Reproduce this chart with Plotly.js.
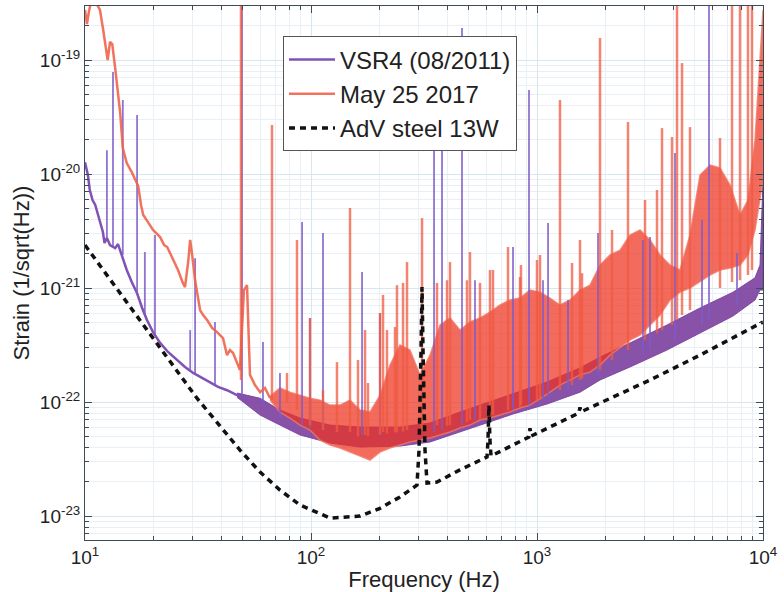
<!DOCTYPE html>
<html><head><meta charset="utf-8">
<script src="https://cdn.plot.ly/plotly-3.0.1.min.js"></script>
<style>html,body{margin:0;padding:0;background:#fff}#chart{width:784px;height:592px}</style>
</head><body><div id="chart"></div>
<script>
// ---- VSR4 (08/2011) ----
const vsr4LowFreq = [10, 10.3, 10.5, 10.8, 11.1, 11.4, 11.65, 12.0, 12.2, 12.5, 12.9, 13.6, 14.0, 14.3, 14.9, 15.3, 16.1, 17.0, 17.9, 18.8, 20.0, 21.5, 23.3, 25.5, 27.7, 30.1, 32.9, 35.7, 38.8, 42.5, 47.1, 52.1];
const vsr4LowStrain = [1.27e-20, 9.8e-21, 7.24e-21, 5.92e-21, 5.35e-21, 4.37e-21, 3.79e-21, 3.1e-21, 2.48e-21, 2.75e-21, 2.38e-21, 2.24e-21, 2.43e-21, 2.15e-21, 1.69e-21, 1.44e-21, 1.13e-21, 9.0e-22, 6.68e-22, 5.24e-22, 4.11e-22, 3.3e-22, 2.75e-22, 2.34e-22, 2.03e-22, 1.8e-22, 1.63e-22, 1.47e-22, 1.36e-22, 1.27e-22, 1.15e-22, 1.04e-22];
const vsr4BandFreq = [47.1, 59.5, 72.9, 89.4, 121.4, 164.8, 247.6, 336.1, 456.4, 559.6, 783.2, 1107, 1550, 1900, 2579, 3761, 5262, 7368, 9218, 9699, 10000];
const vsr4BandUpper = [1.2e-22, 1.08e-22, 8.5e-23, 7.24e-23, 6.28e-23, 6.04e-23, 6.04e-23, 6.55e-23, 8.17e-23, 9.4e-23, 1.2e-22, 1.5e-22, 1.99e-22, 2.48e-22, 3.3e-22, 4.74e-22, 6.68e-22, 9.2e-22, 1.23e-21, 1.59e-21, 8.86e-21];
const vsr4BandLower = [1.1e-22, 7.69e-23, 6.28e-23, 5.14e-23, 4.37e-23, 4.03e-23, 4.11e-23, 4.46e-23, 5.46e-23, 6.28e-23, 7.85e-23, 9.6e-23, 1.22e-22, 1.56e-22, 2.03e-22, 2.86e-22, 4.03e-22, 5.68e-22, 7.85e-22, 9.6e-22, 9.6e-22];
const vsr4SpikeFreq = [12.5, 13.3, 14.7, 17.0, 18.4, 20.4, 29.2, 30.7, 37.6, 49.5, 61.3, 72.9, 91.3, 99.0, 113, 168.2, 202, 350.3, 379.9, 465.8, 531.8, 783.2, 921.9, 1063, 1119, 1372, 1862, 2944, 3162, 4079, 5372, 5769, 7674];
const vsr4SpikePeak = [1.62e-20, 7.85e-20, 4.46e-20, 3.3e-20, 2.07e-21, 2.92e-21, 4.28e-22, 1.83e-21, 5.04e-22, 3.4e-19, 3.36e-22, 1.8e-22, 3.79e-21, 5.46e-22, 3.04e-21, 1.38e-21, 6.04e-22, 2.2e-20, 1.62e-20, 1.91e-19, 1.17e-21, 2.29e-21, 5.46e-20, 1.17e-21, 3.72e-21, 7.85e-22, 3.04e-21, 2.64e-21, 2.8e-21, 1.53e-20, 3.95e-21, 3.4e-19, 2.03e-21];
const vsr4SpikeBase = [2.75e-21, 2.33e-21, 1.95e-21, 9.0e-22, 5.8e-22, 3.87e-22, 1.91e-22, 1.73e-22, 1.41e-22, 1.15e-22, 9.4e-23, 7.24e-23, 6.28e-23, 5.92e-23, 5.68e-23, 5.14e-23, 5.14e-23, 5.46e-23, 5.68e-23, 6.28e-23, 6.95e-23, 8.5e-23, 9.4e-23, 1.04e-22, 1.08e-22, 1.27e-22, 1.73e-22, 2.58e-22, 2.86e-22, 3.5e-22, 4.74e-22, 5.24e-22, 7.1e-22];

// ---- May 25 2017 ----
const mayLowFreq = [10, 10.2, 10.4, 10.6, 11.2, 11.65, 12.0, 12.4, 12.6, 12.9, 13.2, 13.6, 13.9, 14.3, 14.7, 15.3, 16.1, 17.2, 17.7, 18.1, 19.0, 20.0, 21.5, 22.4, 23.1, 24.5, 25.8, 27.1, 27.7, 28.6, 29.2, 29.8, 30.7, 32.3, 33.3, 34.7, 36.5, 38.4, 40.8, 42.5, 43.8, 45.2, 47.1, 48.5, 50.5, 52.1, 53.7, 56.5, 59.5, 62.6, 65.9];
const mayLowStrain = [2.75e-19, 2.07e-19, 2.64e-19, 3.16e-19, 3.16e-19, 2.75e-19, 1.91e-19, 1.17e-19, 1.0e-19, 1.44e-19, 1.38e-19, 8.5e-20, 6.0e-20, 3.5e-20, 1.69e-20, 1.25e-20, 1.04e-20, 7.85e-21, 5.35e-21, 4.37e-21, 3.79e-21, 3.23e-21, 2.8e-21, 2.38e-21, 2.29e-21, 1.76e-21, 1.44e-21, 1.11e-21, 1.02e-21, 1.69e-21, 2.64e-21, 1.95e-21, 1.17e-21, 6.41e-22, 5.8e-22, 5.24e-22, 4.46e-22, 4.11e-22, 3.64e-22, 2.58e-22, 2.86e-22, 2.69e-22, 2.24e-22, 1.91e-22, 9.6e-22, 1.06e-21, 1.73e-22, 1.41e-22, 1.22e-22, 1.33e-22, 1.08e-22];
const mayBandFreq = [65.9, 72.9, 80.7, 89.4, 99.0, 109.6, 121.4, 134.4, 148.8, 164.8, 182.4, 202, 223.7, 247.6, 274.2, 303.6, 336.1, 372.4, 412.1, 456.4, 505.1, 559.6, 619.5, 686.1, 759.5, 841.2, 931.4, 1031, 1141, 1264, 1400, 1550, 1716, 1900, 2104, 2330, 2579, 2857, 3162, 3502, 3878, 4293, 4753, 5262, 5828, 6453, 7145, 7910, 8580, 9218, 9699, 10000];
const mayBandUpper = [1.12e-22, 1.33e-22, 1.22e-22, 1.15e-22, 1.08e-22, 1.04e-22, 9.4e-23, 9.4e-23, 1.04e-22, 8.5e-23, 8.17e-23, 1.15e-22, 2.11e-22, 3.16e-22, 2.86e-22, 1.73e-22, 2.58e-22, 4.74e-22, 5.46e-22, 4.28e-22, 5.04e-22, 5.46e-22, 6.15e-22, 7.1e-22, 7.85e-22, 8.17e-22, 9.6e-22, 9.2e-22, 8.17e-22, 7.1e-22, 7.85e-22, 9.6e-22, 1.06e-21, 1.59e-21, 1.95e-21, 2.15e-21, 2.92e-21, 3.23e-21, 2.64e-21, 1.95e-21, 1.59e-21, 1.44e-21, 2.92e-21, 9.8e-21, 1.2e-20, 1.13e-20, 8.0e-21, 4.37e-21, 5.92e-21, 1.99e-20, 1e-19, 2.75e-19];
const mayBandLower = [1.04e-22, 8.17e-23, 7.24e-23, 6.28e-23, 5.68e-23, 4.64e-23, 4.2e-23, 3.95e-23, 3.64e-23, 3.36e-23, 3.1e-23, 3.64e-23, 3.95e-23, 4.2e-23, 4.46e-23, 4.64e-23, 4.83e-23, 5.14e-23, 5.46e-23, 5.92e-23, 6.28e-23, 6.95e-23, 7.24e-23, 7.69e-23, 8.17e-23, 8.86e-23, 9.4e-23, 1.08e-22, 1.22e-22, 1.41e-22, 1.56e-22, 1.73e-22, 1.83e-22, 2.11e-22, 2.58e-22, 2.98e-22, 3.5e-22, 3.87e-22, 4.74e-22, 5.8e-22, 7.85e-22, 9.2e-22, 1.0e-21, 1.13e-21, 1.3e-21, 1.44e-21, 1.5e-21, 1.59e-21, 1.95e-21, 3.23e-21, 5.92e-21, 8.86e-21];
const maySpikeFreq = [49.0, 67.2, 78.3, 86.7, 99.0, 113, 130.3, 148.8, 161.4, 173.4, 178.7, 202, 208.3, 216.9, 235.4, 240.1, 255.4, 266, 309.9, 361, 399.8, 412.1, 490, 505.1, 559.6, 619.5, 638.6, 744.1, 841.2, 849.3, 1000, 1031, 1264, 1429, 1550, 1582, 1900, 2148, 2527, 3006, 3396, 3574, 3957, 4164, 4382, 4753, 6453, 7293, 7910, 8580, 8941];
const maySpikePeak = [3.4e-19, 2.69e-20, 1.8e-22, 2.64e-21, 5.46e-22, 1.27e-22, 2.24e-22, 5.04e-21, 2.34e-22, 4.28e-22, 1.47e-22, 6.04e-22, 8.7e-22, 4.28e-22, 4.55e-22, 1.06e-21, 1.11e-21, 1.69e-21, 4.11e-21, 1.11e-21, 1.17e-21, 1.69e-21, 1.17e-21, 2.07e-21, 1.11e-21, 1.44e-21, 1.44e-21, 2.29e-21, 1.25e-21, 1.59e-21, 1.76e-21, 1.95e-21, 4.46e-20, 1.66e-21, 2.64e-21, 1.35e-21, 1.56e-19, 3.23e-21, 2.86e-20, 5.92e-21, 7.24e-21, 2.53e-20, 2.11e-20, 3.4e-19, 9.4e-20, 2.58e-20, 2.07e-20, 3.4e-19, 3.4e-19, 3.4e-19, 3.4e-19];
const maySpikeBase = [1.56e-22, 1.04e-22, 1.0e-22, 8.5e-23, 6.28e-23, 5.68e-23, 5.46e-23, 5.46e-23, 5.0e-23, 5.14e-23, 5.0e-23, 5.2e-23, 5.46e-23, 5.3e-23, 5.4e-23, 5.46e-23, 5.5e-23, 5.68e-23, 5.68e-23, 6.28e-23, 6.2e-23, 6.28e-23, 6.7e-23, 6.95e-23, 7.0e-23, 7.69e-23, 7.7e-23, 8.5e-23, 9.0e-23, 9.4e-23, 1.0e-22, 1.04e-22, 1.27e-22, 1.41e-22, 1.56e-22, 1.6e-22, 1.91e-22, 2.34e-22, 2.86e-22, 3.5e-22, 4.0e-22, 4.28e-22, 4.74e-22, 5.24e-22, 5.8e-22, 6.41e-22, 1.0e-21, 1.13e-21, 1.17e-21, 1.3e-21, 1.44e-21];

// ---- AdV steel 13W ----
const advFreq = [10, 17.5, 23.8, 31.3, 48.5, 59.5, 72.9, 89.4, 121.4, 164.8, 202, 247.6, 294.4, 300.6, 306.8, 309.9, 313.1, 319.5, 326.1, 361, 456, 601, 607, 613, 619, 626, 920, 931, 942, 1530, 1549, 1565, 1900, 3162, 5262, 10000];
const advStrain = [2.38e-21, 5.24e-22, 2.29e-22, 1.08e-22, 3.79e-23, 2.43e-23, 1.69e-23, 1.25e-23, 9.6e-24, 1.0e-23, 1.17e-23, 1.47e-23, 1.87e-23, 3.79e-23, 2.86e-22, 1.02e-21, 2.86e-22, 3.79e-23, 1.95e-23, 1.99e-23, 2.54e-23, 3.3e-23, 4.65e-23, 9.4e-23, 4.65e-23, 3.36e-23, 4.93e-23, 5.9e-23, 5.03e-23, 8.0e-23, 9.0e-23, 8.2e-23, 9.8e-23, 1.56e-22, 2.58e-22, 5.04e-22];

// ---- axes ----
const xTickVals = [10, 100, 1000, 10000];
const xTickText = ['10<sup>1</sup>', '10<sup>2</sup>', '10<sup>3</sup>', '10<sup>4</sup>'];
const yTickVals = [1e-23, 1e-22, 1e-21, 1e-20, 1e-19];
const yTickText = ['10<sup>-23</sup>', '10<sup>-22</sup>', '10<sup>-21</sup>', '10<sup>-20</sup>', '10<sup>-19</sup>'];
const mantissas = [2, 3, 4, 5, 6, 7, 8, 9];
const xDecades = [10, 100, 1000];
const yDecades = [1e-24, 1e-23, 1e-22, 1e-21, 1e-20, 1e-19];

function minorVals(decs) { const v = []; decs.forEach(d => mantissas.forEach(m => v.push(m * d))); return v; }
function spikes(f, lo, hi) { const x = [], y = []; for (let i = 0; i < f.length; i++) { x.push(f[i], f[i], null); y.push(lo[i], hi[i], null); } return {x, y}; }
function band(f, up, lo) { return {x: f.concat(f.slice().reverse()), y: up.concat(lo.slice().reverse())}; }

const vsrBand = band(vsr4BandFreq, vsr4BandUpper, vsr4BandLower);
const vsrSp = spikes(vsr4SpikeFreq, vsr4SpikeBase, vsr4SpikePeak);
const mayB = band(mayBandFreq, mayBandUpper, mayBandLower);
const maySp = spikes(maySpikeFreq, maySpikeBase, maySpikePeak);

const traces = [
  {x: vsrBand.x, y: vsrBand.y, type: 'scatter', mode: 'lines', fill: 'toself', fillcolor: 'rgba(123,63,158,0.9)', line: {color: 'rgba(123,63,158,0.9)', width: 1}, showlegend: false, hoverinfo: 'skip'},
  {x: vsr4LowFreq, y: vsr4LowStrain, type: 'scatter', mode: 'lines', name: 'VSR4 (08/2011)', line: {color: '#8052b5', width: 2.5}},
  {x: mayB.x, y: mayB.y, type: 'scatter', mode: 'lines', fill: 'toself', fillcolor: 'rgba(238,50,30,0.72)', line: {color: 'rgba(242,120,100,0.8)', width: 1.5}, showlegend: false, hoverinfo: 'skip'},
  {x: vsrSp.x, y: vsrSp.y, type: 'scatter', mode: 'lines', line: {color: 'rgba(125,90,200,0.85)', width: 1.8}, showlegend: false, hoverinfo: 'skip'},
  {x: mayLowFreq, y: mayLowStrain, type: 'scatter', mode: 'lines', name: 'May 25 2017', line: {color: 'rgba(240,100,75,0.9)', width: 2.5}},
  {x: maySp.x, y: maySp.y, type: 'scatter', mode: 'lines', line: {color: 'rgba(240,90,65,0.75)', width: 2.5}, showlegend: false, hoverinfo: 'skip'},
  {x: advFreq, y: advStrain, type: 'scatter', mode: 'lines', name: 'AdV steel 13W', line: {color: '#111', width: 3.5, dash: '6px,5px'}}
];

const axisLine = '#3b4b58';
const common = {
  type: 'log', showline: true, linecolor: axisLine, linewidth: 1, mirror: 'ticks',
  ticks: 'inside', ticklen: 7, tickwidth: 1, tickcolor: axisLine,
  showgrid: true, gridcolor: '#d8e7ef', gridwidth: 1, zeroline: false,
  tickfont: {size: 19, color: '#222'}
};
const layout = {
  width: 784, height: 592,
  margin: {l: 85, r: 21, t: 6, b: 52},
  paper_bgcolor: '#fff', plot_bgcolor: '#fff',
  font: {family: 'Liberation Sans, Arial, Helvetica, sans-serif', color: '#222'},
  xaxis: Object.assign({}, common, {
    range: [1, 4], tickmode: 'array', tickvals: xTickVals, ticktext: xTickText,
    title: {text: 'Frequency (Hz)', font: {size: 22, color: '#222'}, standoff: 4},
    minor: {tickmode: 'array', tickvals: minorVals(xDecades), ticks: 'inside', ticklen: 4, tickcolor: axisLine, showgrid: true, gridcolor: '#e8f0f5'}
  }),
  yaxis: Object.assign({}, common, {
    range: [-23.21, -18.526], tickmode: 'array', tickvals: yTickVals, ticktext: yTickText,
    title: {text: 'Strain (1/sqrt(Hz))', font: {size: 22, color: '#222'}, standoff: 4},
    minor: {tickmode: 'array', tickvals: minorVals(yDecades), ticks: 'inside', ticklen: 4, tickcolor: axisLine, showgrid: true, gridcolor: '#e8f0f5'}
  }),
  legend: {x: 0.292, y: 0.943, xanchor: 'left', yanchor: 'top', bgcolor: '#fff', bordercolor: '#555', borderwidth: 1, itemwidth: 46, font: {size: 24, color: '#222'}},
  showlegend: true
};
Plotly.newPlot('chart', traces, layout, {staticPlot: true, displayModeBar: false});
</script></body></html>
